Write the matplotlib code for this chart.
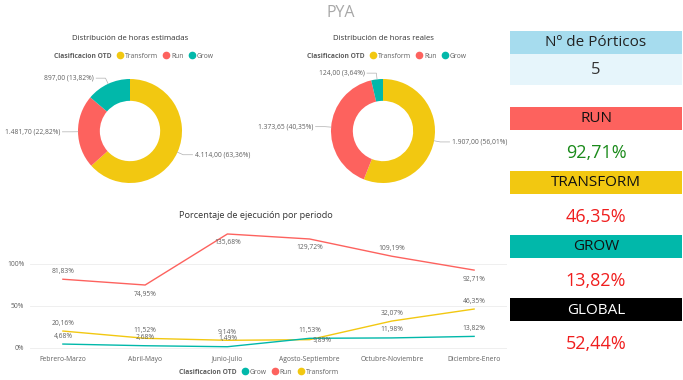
import numpy as np
import matplotlib
matplotlib.use("Agg")
import matplotlib.pyplot as plt
from matplotlib.lines import Line2D
from matplotlib.patches import Rectangle

plt.rcParams['font.family'] = ['Open Sans', 'DejaVu Sans']

# --- data ---
classes = ['Transform', 'Run', 'Grow']
horas_estimadas = [4114.00, 1481.70, 897.00]
horas_reales = [1907.00, 1373.65, 124.00]

periodos = ['Febrero-Marzo', 'Abril-Mayo', 'Junio-Julio',
            'Agosto-Septiembre', 'Octubre-Noviembre', 'Diciembre-Enero']
pct_run = [81.83, 74.95, 135.68, 129.72, 109.19, 92.71]
pct_transform = [20.16, 11.52, 9.14, 9.89, 32.07, 46.35]
pct_grow = [4.68, 2.68, 1.49, 11.53, 11.98, 13.82]

n_porticos = 5
kpi_names = ['RUN', 'TRANSFORM', 'GROW', 'GLOBAL']
kpi_values = [92.71, 46.35, 13.82, 52.44]

colors = {'Transform': '#F2C811', 'Run': '#FD625E', 'Grow': '#01B8AA'}
GRAY = '#606060'
W, H = 683, 380


def frac(x0, y0, x1, y1):
    return [x0 / W, 1 - y1 / H, (x1 - x0) / W, (y1 - y0) / H]


def num_es(v):
    s = f"{v:,.2f}"
    return s.replace(',', 'X').replace('.', ',').replace('X', '.')


fig = plt.figure(figsize=(W / 100, H / 100), dpi=100)

# overlay axes in pixel units for titles and the KPI panel
ov = fig.add_axes([0, 0, 1, 1])
ov.set_xlim(0, W)
ov.set_ylim(H, 0)
ov.axis('off')
ov.text(341, 13, 'PYA', ha='center', va='center', fontsize=11.5, color='#a8a8a8')


def legend_at(order, x, y):
    handles = [Line2D([], [], ls='none')]
    handles += [Line2D([], [], ls='none', marker='o', markersize=4.5,
                       markerfacecolor=colors[c], markeredgecolor=colors[c]) for c in order]
    leg = fig.legend(handles, ['Clasificacion OTD'] + order, loc='center',
                     bbox_to_anchor=(x / W, 1 - y / H), ncol=len(order) + 1,
                     frameon=False, fontsize=4.9, handlelength=0.7,
                     handletextpad=0.35, columnspacing=0.9, borderpad=0)
    for i, t in enumerate(leg.get_texts()):
        t.set_color(GRAY)
        if i == 0:
            t.set_fontweight('bold')


def donut(rect, values, title, tx, ty):
    ax = fig.add_axes(frac(*rect))
    wedges, _ = ax.pie(values, colors=[colors[c] for c in classes], startangle=90,
                       counterclock=False, radius=1.0,
                       wedgeprops=dict(width=0.42, edgecolor='none'))
    ax.set_xlim(-2.5, 2.5)
    ax.set_ylim(-1.25, 1.25)
    total = sum(values)
    for w, v in zip(wedges, values):
        ang = np.deg2rad((w.theta1 + w.theta2) / 2)
        c, s = np.cos(ang), np.sin(ang)
        side = 1 if c >= 0 else -1
        elbow = (1.12 * c, 1.12 * s)
        end = (elbow[0] + side * 0.18, elbow[1])
        ax.plot([c, elbow[0], end[0]], [s, elbow[1], end[1]], color='#b0b0b0', lw=0.5)
        label = f"{num_es(v)} ({num_es(v / total * 100)}%)"
        ax.text(end[0] + side * 0.04, end[1], label, ha='left' if side > 0 else 'right',
                va='center', fontsize=4.9, color=GRAY)
    ov.text(tx, ty, title, ha='center', va='center', fontsize=5.6, color='#333333')
    legend_at(classes, tx, 56)


donut((0, 66, 260, 196), horas_estimadas, 'Distribución de horas estimadas', 130, 38.5)
donut((253, 66, 513, 196), horas_reales, 'Distribución de horas reales', 383, 38.5)

# --- line chart ---
ax = fig.add_axes(frac(30, 228, 507, 350))
x = np.arange(len(periodos))
series = [
    (pct_run, 'Run', ['a', 'b', 'b', 'b', 'a', 'b']),
    (pct_transform, 'Transform', ['a', 'a', 'a', 'r', 'a', 'a']),
    (pct_grow, 'Grow', ['a'] * 6),
]
for vals, name, pos in series:
    ax.plot(x, vals, color=colors[name], lw=1.0)
    for xi, v, p in zip(x, vals, pos):
        off = {'a': (0, 8), 'b': (0, -9), 'r': (13, -1)}[p]
        ax.annotate(num_es(v) + '%', (xi, v), xytext=off, textcoords='offset pixels',
                    ha='center', va='center', fontsize=4.9, color=GRAY)

ax.set_xlim(-0.4, 5.4)
ax.set_ylim(-2.4, 142.8)
ax.set_xticks(x)
ax.set_xticklabels(periodos)
ax.set_yticks([0, 50, 100])
ax.set_yticklabels(['0%', '50%', '100%'])
ax.tick_params(length=0, labelsize=4.9, labelcolor=GRAY, pad=4)
for sp in ax.spines.values():
    sp.set_visible(False)
ax.grid(axis='y', color='#ececec', lw=0.6)
ax.set_axisbelow(True)
ax.patch.set_alpha(0)
ov.text(256, 215, 'Porcentaje de ejecución por periodo', ha='center', va='center',
        fontsize=6.6, color='#333333')
legend_at(['Grow', 'Run', 'Transform'], 255, 372)

# --- KPI panel ---
ov.add_patch(Rectangle((510, 31), 172, 23, color='#a6dcee', lw=0))
ov.add_patch(Rectangle((510, 54), 172, 31, color='#e6f5fb', lw=0))
ov.text(596, 43, 'Nº de Pórticos', ha='center', va='center', fontsize=11, color='#222222')
ov.text(596, 70, str(n_porticos), ha='center', va='center', fontsize=12, color='#333333')

box_colors = ['#FD625E', '#F2C811', '#01B8AA', '#000000']
name_colors = ['#111111', '#111111', '#111111', '#ffffff']
value_colors = ['#1a8a1a', '#f01e1e', '#f01e1e', '#f01e1e']
box_tops = [107, 171, 235, 298]
for name, val, bc, nc, vc, top in zip(kpi_names, kpi_values, box_colors,
                                      name_colors, value_colors, box_tops):
    ov.add_patch(Rectangle((510, top), 172, 23, color=bc, lw=0))
    ov.text(596, top + 12, name, ha='center', va='center', fontsize=11, color=nc)
    ov.text(596, top + 46, num_es(val) + '%', ha='center', va='center',
            fontsize=13, color=vc)

fig.savefig('out.png', dpi=100)
